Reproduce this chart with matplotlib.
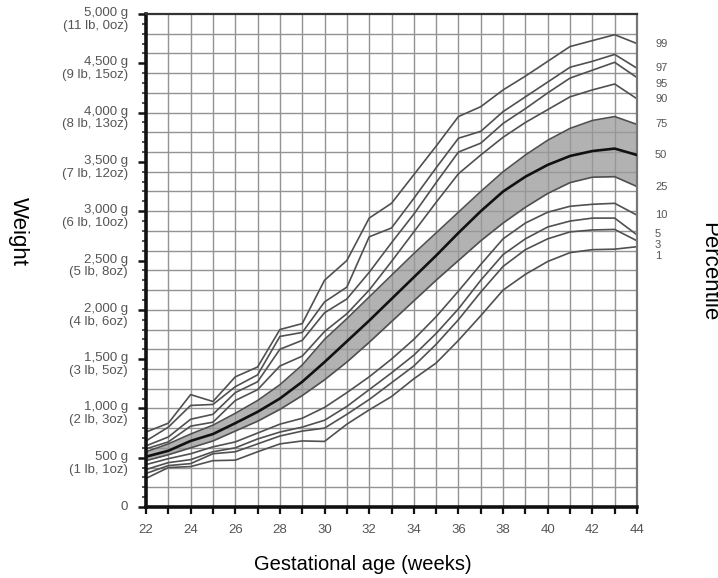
import numpy as np
import matplotlib
matplotlib.use('Agg')
import matplotlib.pyplot as plt
from matplotlib import transforms
from matplotlib.ticker import MultipleLocator, NullFormatter

plt.rcParams['font.family'] = ['Liberation Sans', 'DejaVu Sans']

# gestational age (weeks)
weeks = list(range(22, 45))

# birth weight percentiles (g)
p1 = [290, 400, 410, 470, 475, 560, 640, 670, 665, 840, 985, 1120, 1300, 1460, 1690, 1940, 2200, 2360, 2490, 2580, 2610, 2615, 2640]
p3 = [340, 420, 440, 540, 560, 640, 720, 770, 800, 940, 1090, 1260, 1430, 1650, 1900, 2180, 2440, 2610, 2720, 2790, 2810, 2815, 2700]
p5 = [380, 450, 480, 560, 600, 690, 760, 810, 880, 1020, 1190, 1360, 1540, 1760, 2010, 2300, 2560, 2720, 2840, 2900, 2930, 2930, 2760]
p10 = [430, 490, 540, 610, 660, 750, 840, 900, 1010, 1160, 1320, 1500, 1700, 1930, 2190, 2460, 2720, 2880, 2990, 3050, 3070, 3080, 2960]
p25 = [470, 530, 600, 670, 770, 870, 990, 1130, 1290, 1470, 1670, 1880, 2090, 2300, 2500, 2700, 2880, 3040, 3180, 3290, 3345, 3350, 3250]
p50 = [510, 570, 670, 740, 850, 965, 1100, 1270, 1470, 1680, 1890, 2110, 2330, 2550, 2780, 3000, 3200, 3350, 3470, 3560, 3610, 3635, 3570]
p75 = [560, 640, 740, 830, 950, 1080, 1240, 1440, 1700, 1910, 2130, 2350, 2570, 2780, 2990, 3200, 3400, 3570, 3720, 3840, 3920, 3960, 3880]
p90 = [590, 660, 820, 860, 1080, 1190, 1430, 1530, 1780, 1960, 2200, 2490, 2790, 3090, 3380, 3570, 3750, 3900, 4030, 4160, 4230, 4290, 4140]
p95 = [620, 710, 890, 940, 1160, 1270, 1600, 1690, 1970, 2110, 2380, 2680, 2970, 3290, 3600, 3690, 3890, 4040, 4200, 4350, 4430, 4510, 4355]
p97 = [670, 810, 1030, 1040, 1220, 1340, 1730, 1770, 2080, 2230, 2740, 2830, 3130, 3440, 3740, 3810, 4010, 4160, 4310, 4460, 4520, 4590, 4450]
p99 = [760, 850, 1140, 1070, 1320, 1420, 1800, 1860, 2300, 2500, 2930, 3080, 3370, 3660, 3960, 4060, 4230, 4370, 4520, 4670, 4730, 4790, 4700]

pct_names = ['1', '3', '5', '10', '25', '50', '75', '90', '95', '97', '99']
pct_series = [p1, p3, p5, p10, p25, p50, p75, p90, p95, p97, p99]

# y axis labels
y_ticks = [0, 500, 1000, 1500, 2000, 2500, 3000, 3500, 4000, 4500, 5000]
y_labels = ['0',
            '500 g\n(1 lb, 1oz)', '1,000 g\n(2 lb, 3oz)', '1,500 g\n(3 lb, 5oz)',
            '2,000 g\n(4 lb, 6oz)', '2,500 g\n(5 lb, 8oz)', '3,000 g\n(6 lb, 10oz)',
            '3,500 g\n(7 lb, 12oz)', '4,000 g\n(8 lb, 13oz)', '4,500 g\n(9 lb, 15oz)',
            '5,000 g\n(11 lb, 0oz)']

# small shifts (g) so the right-hand labels don't collide
label_nudge = {'1': -95, '3': -40, '5': 10, '95': -65}

fig = plt.figure(figsize=(7.18, 5.78), dpi=100)
ax = fig.add_axes([146/718, 71/578, 491/718, 493/578])

ax.set_xlim(22, 44)
ax.set_ylim(0, 5000)

# grid: every week, every 200 g
for w in range(23, 44):
    ax.axvline(w, color='#939393', lw=1.0, zorder=0)
for g in range(200, 5000, 200):
    ax.axhline(g, color='#939393', lw=1.0, zorder=0)

ax.fill_between(weeks, p25, p75, color='#999999', alpha=0.75, lw=0, zorder=1)

for name, s in zip(pct_names, pct_series):
    if name == '50':
        ax.plot(weeks, s, color='#111111', lw=1.9, zorder=3)
    else:
        ax.plot(weeks, s, color='#505050', lw=1.2, zorder=2)

# percentile labels at the right
for name, s in zip(pct_names, pct_series):
    ax.annotate(name, xy=(1, s[-1] + label_nudge.get(name, 0)),
                xycoords=('axes fraction', 'data'), xytext=(13, 0),
                textcoords='offset points', ha='left', va='center',
                fontsize=8, color='#555555')

# spines
for side in ['left', 'bottom']:
    ax.spines[side].set_linewidth(2.6)
    ax.spines[side].set_color('#111111')
ax.spines['top'].set_linewidth(1.6)
ax.spines['top'].set_color('#333333')
ax.spines['right'].set_linewidth(1.6)
ax.spines['right'].set_color('#777777')

# x ticks: every week, labels on even weeks
ax.xaxis.set_major_locator(MultipleLocator(2))
ax.xaxis.set_minor_locator(MultipleLocator(1))
ax.xaxis.set_minor_formatter(NullFormatter())
ax.tick_params(axis='x', which='both', direction='out', length=5, width=1.6,
               color='#111111', labelsize=9.5, labelcolor='#555555', pad=7)

# y ticks: major 500 g, minor 100 g, labels drawn by hand
ax.set_yticks(y_ticks)
ax.set_yticklabels([])
ax.yaxis.set_minor_locator(MultipleLocator(100))
ax.tick_params(axis='y', which='major', direction='out', length=6, width=1.8, color='#111111')
ax.tick_params(axis='y', which='minor', direction='out', length=3, width=1.2, color='#333333')

trans = transforms.blended_transform_factory(ax.transAxes, ax.transData)
for v, lab in zip(y_ticks, y_labels):
    t = transforms.offset_copy(trans, fig=fig, x=-18, y=7 if v else 0, units='dots')
    ax.text(0, v, lab, transform=t, ha='right', va='top' if v else 'center',
            multialignment='right', fontsize=9.5, color='#555555', linespacing=1.1)

fig.text(18/718, 1 - 232/578, 'Weight', rotation=270, ha='center', va='center', fontsize=16)
fig.text(709/718, 1 - 272/578, 'Percentile', rotation=270, ha='center', va='center', fontsize=16)
fig.text(363/718, 1 - 565/578, 'Gestational age (weeks)', ha='center', va='center', fontsize=14.5)

fig.savefig('out.png', dpi=100)
